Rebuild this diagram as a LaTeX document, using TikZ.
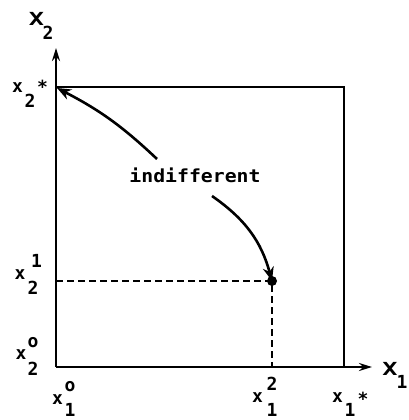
\documentclass[tikz,border=0pt]{standalone}
\usepackage{fontspec}
\newfontfamily\labfont{DejaVu Sans Mono}
\usetikzlibrary{arrows.meta}
\tikzset{
  lab/.style={inner sep=0pt, font=\labfont\bfseries\fontsize{18}{18}\selectfont},
  axis/.style={line width=2.6pt, -{Stealth[length=13pt,width=8pt]}},
  boxline/.style={line width=2.2pt},
  guide/.style={line width=2pt, dash pattern=on 7pt off 4pt},
  pointer/.style={line width=2.6pt, -{Stealth[length=14pt,width=11pt]}}
}
\begin{document}
\begin{tikzpicture}[x=1pt,y=-1pt]
\useasboundingbox (0,0) rectangle (408,420);
\coordinate (O) at (56,367);
\coordinate (Ytop) at (56,48);
\coordinate (Xend) at (372,367);
\coordinate (TL) at (56,87);
\coordinate (TR) at (344,87);
\coordinate (BR) at (344,367);
\coordinate (P) at (272,281);
\coordinate (Px) at (272,367);
\coordinate (Py) at (56,281);
\coordinate (Tip) at (57,88);
\draw[axis] (O) -- (Ytop);
\draw[axis] (O) -- (Xend);
\draw[boxline] (TL) -- (TR) -- (BR);
\draw[guide] (Py) -- (P) -- (Px);
\node[lab, font=\labfont\bfseries\fontsize{18}{18}\selectfont, xscale=1.1] (ind) at (195,175) {indifferent};
\coordinate (s1) at (157,159);
\coordinate (s2) at (212,196);
\draw[pointer] (s1) to[bend right=8] (Tip);
\draw[pointer] (s2) to[bend left=20] (P);
\fill (P) circle (5pt);
% labels
\node[lab, xscale=1.4] (X2a) at (36.5,19) {X};
\node[lab] (X2b) at (48,33) {2};
\node[lab] (xs2a) at (17.5,88) {x};
\node[lab] (xs2b) at (30,101) {2};
\node[lab] (xs2c) at (42.5,87) {*};
\node[lab] (x21c) at (36.5,261) {1};
\node[lab] (x21a) at (20,274.5) {x};
\node[lab] (x21b) at (33,287.5) {2};
\node[lab] (x2oc) at (33,343) {o};
\node[lab] (x2oa) at (21,355) {x};
\node[lab] (x2ob) at (33,368.5) {2};
\node[lab] (x1oc) at (70,387) {o};
\node[lab] (x1oa) at (57.5,400) {x};
\node[lab] (x1ob) at (70,410) {1};
\node[lab] (x12c) at (272,384) {2};
\node[lab] (x12a) at (257.5,398) {x};
\node[lab] (x12b) at (272,410) {1};
\node[lab] (x1sa) at (337.5,398) {x};
\node[lab] (x1sb) at (350,410) {1};
\node[lab] (x1sc) at (363,399) {*};
\node[lab, xscale=1.4] (X1a) at (390,368.5) {X};
\node[lab] (X1b) at (402,382) {1};
\end{tikzpicture}
\end{document}
